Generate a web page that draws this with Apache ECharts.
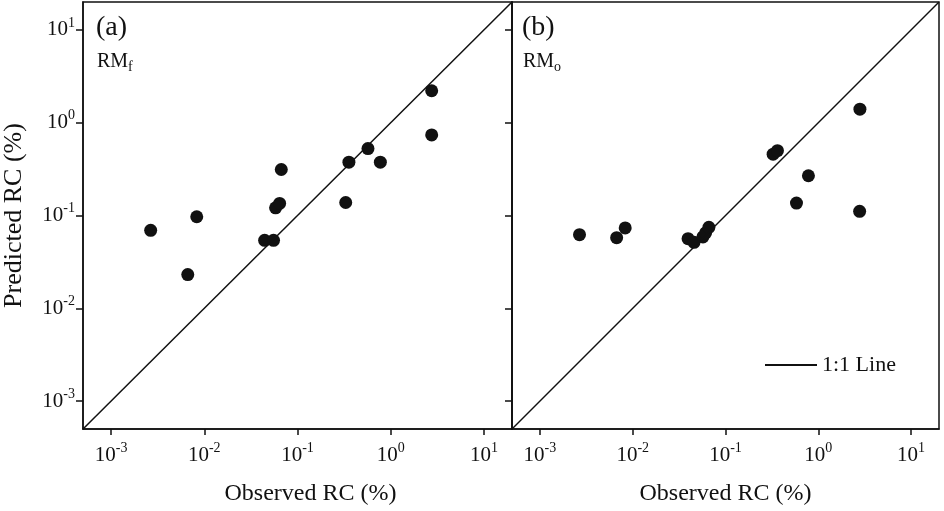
<!DOCTYPE html>
<html>
<head>
<meta charset="utf-8">
<script src="https://cdn.jsdelivr.net/npm/echarts@6/dist/echarts.min.js"></script>
<style>
  html, body { margin: 0; padding: 0; background: #fff; }
  #main { width: 944px; height: 511px; }
</style>
</head>
<body>
<div id="main"></div>
<script>
// axis limits (both axes, both panels)
var axisLimits = [0.0005, 20];
var tickValues = [0.001, 0.01, 0.1, 1, 10];

// panel (a) RMf
var observedF = [0.00266, 0.0083, 0.00665, 0.0444, 0.0553, 0.0582, 0.0643, 0.067, 0.329, 0.356, 0.57, 0.774, 2.75, 2.75];
var predictedF = [0.0692, 0.097, 0.0231, 0.054, 0.054, 0.121, 0.135, 0.313, 0.138, 0.376, 0.526, 0.376, 2.21, 0.738];

// panel (b) RMo
var observedO = [0.00267, 0.00671, 0.0083, 0.0395, 0.0458, 0.0571, 0.061, 0.0662, 0.326, 0.363, 0.783, 0.582, 2.81, 2.79];
var predictedO = [0.0622, 0.0577, 0.0734, 0.0563, 0.0514, 0.0588, 0.0649, 0.0745, 0.458, 0.5, 0.268, 0.136, 1.4, 0.111];

var FONT = '"Liberation Serif", "DejaVu Serif", serif';
var INK = '#111';

function pairs(xs, ys) {
  return xs.map(function (x, i) { return [x, ys[i]]; });
}

// only label the decades, as 10 with a superscript exponent
function powLabel(v) {
  var e = Math.log10(v);
  var r = Math.round(e);
  if (Math.abs(e - r) > 1e-6) return '';
  return '{b|10}{s|' + r + '}';
}

var richPow = {
  b: { fontSize: 21, fontFamily: FONT, color: INK },
  s: { fontSize: 14, fontFamily: FONT, color: INK, padding: [0, 0, 14, 0] }
};

function xAxis(idx, shift) {
  return {
    type: 'log',
    gridIndex: idx,
    logBase: 10,
    min: axisLimits[0],
    max: axisLimits[1],
    name: 'Observed RC (%)',
    nameLocation: 'middle',
    nameGap: 53,
    nameTextStyle: { fontFamily: FONT, fontSize: 24, color: INK, padding: [0, 0, 0, shift] },
    axisLine: { onZero: false, lineStyle: { color: INK, width: 1.5 } },
    axisTick: { inside: false, length: 6, customValues: tickValues, lineStyle: { color: INK, width: 1.5 } },
    axisLabel: { margin: 12, customValues: tickValues, formatter: powLabel, rich: richPow },
    splitLine: { show: false }
  };
}

function yAxis(idx, showLabels) {
  return {
    type: 'log',
    gridIndex: idx,
    logBase: 10,
    min: axisLimits[0],
    max: axisLimits[1],
    name: showLabels ? 'Predicted RC (%)' : '',
    nameLocation: 'middle',
    nameGap: 56,
    nameTextStyle: { fontFamily: FONT, fontSize: 26, color: INK },
    axisLine: { onZero: false, lineStyle: { color: INK, width: 1.5 } },
    axisTick: { inside: false, length: 7, customValues: tickValues, lineStyle: { color: INK, width: 1.5 } },
    axisLabel: { show: showLabels, margin: 8, customValues: tickValues, formatter: powLabel, rich: richPow },
    splitLine: { show: false }
  };
}

var subRich = {
  m: { font: '20px ' + FONT, fill: INK },
  s: { font: '14px ' + FONT, fill: INK, padding: [10, 0, 0, 0] }
};

var chart = echarts.init(document.getElementById('main'));

var option = {
  animation: false,
  backgroundColor: '#fff',
  textStyle: { fontFamily: FONT },
  grid: [
    { left: 83, top: 2, width: 429, height: 427, show: true, borderColor: INK, borderWidth: 1.5 },
    { left: 512, top: 2, width: 427, height: 427, show: true, borderColor: INK, borderWidth: 1.5 }
  ],
  xAxis: [xAxis(0, 26), xAxis(1, 0)],
  yAxis: [yAxis(0, true), yAxis(1, false)],
  legend: {
    data: [{ name: '1:1 Line', icon: 'rect' }],
    left: 760,
    top: 349,
    itemWidth: 52,
    itemHeight: 2,
    itemStyle: { color: INK },
    textStyle: { fontFamily: FONT, fontSize: 22, color: INK }
  },
  graphic: [
    { type: 'text', left: 96, top: 14, style: { text: '(a)', font: '28px ' + FONT, fill: INK } },
    { type: 'text', left: 97, top: 52, style: { text: '{m|RM}{s|f}', rich: subRich } },
    { type: 'text', left: 522, top: 14, style: { text: '(b)', font: '28px ' + FONT, fill: INK } },
    { type: 'text', left: 523, top: 52, style: { text: '{m|RM}{s|o}', rich: subRich } }
  ],
  series: [
    {
      name: '1:1 Line', type: 'line', xAxisIndex: 0, yAxisIndex: 0,
      data: [[axisLimits[0], axisLimits[0]], [axisLimits[1], axisLimits[1]]],
      symbol: 'none', lineStyle: { color: INK, width: 1.5 }, itemStyle: { color: INK }
    },
    {
      name: '1:1 Line', type: 'line', xAxisIndex: 1, yAxisIndex: 1,
      data: [[axisLimits[0], axisLimits[0]], [axisLimits[1], axisLimits[1]]],
      symbol: 'none', lineStyle: { color: INK, width: 1.5 }, itemStyle: { color: INK }
    },
    {
      name: 'RMf', type: 'scatter', xAxisIndex: 0, yAxisIndex: 0,
      data: pairs(observedF, predictedF),
      symbolSize: 13, itemStyle: { color: INK, opacity: 1 }
    },
    {
      name: 'RMo', type: 'scatter', xAxisIndex: 1, yAxisIndex: 1,
      data: pairs(observedO, predictedO),
      symbolSize: 13, itemStyle: { color: INK, opacity: 1 }
    }
  ]
};

chart.setOption(option);
</script>
</body>
</html>
